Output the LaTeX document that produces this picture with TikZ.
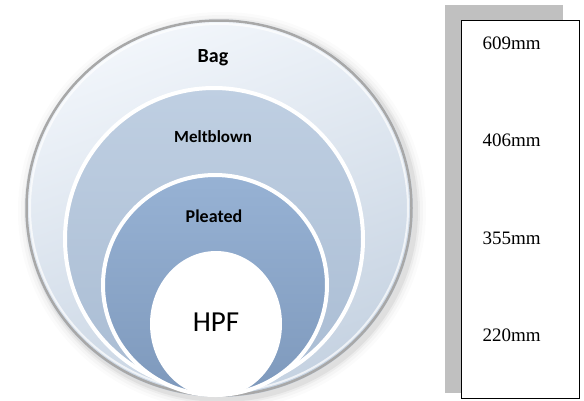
\documentclass[tikz,border=0pt]{standalone}
\usepackage{fontspec}
\setmainfont{Liberation Serif}
\newfontfamily\carlito{Carlito}
\usetikzlibrary{shadings}
\definecolor{bagtop}{HTML}{F2F6FB}
\definecolor{bagbot}{HTML}{C5D2E1}
\definecolor{melttop}{HTML}{BFCFE2}
\definecolor{meltbot}{HTML}{A9BCD3}
\definecolor{pleattop}{HTML}{97B2D4}
\definecolor{pleatbot}{HTML}{7E99BC}
\definecolor{rimgray}{HTML}{A8A8A8}
\definecolor{shadowgray}{HTML}{C0C0C0}
\tikzset{
  ringlabel/.style={font=\carlito\bfseries\fontsize{#1}{#1}\selectfont, text=black},
  ringlabel/.default=17,
  mmlabel/.style={font=\fontsize{19}{22}\selectfont, anchor=west, text=black},
  innerring/.style={draw=white, line width=4pt},
}
\begin{document}
\begin{tikzpicture}[x=1pt,y=-1pt]
\useasboundingbox (0,0) rectangle (584,400);
\fill[white] (0,0) rectangle (584,400);
% soft shadow around outer circle
\foreach \r/\o in {10/0.015,7/0.025,4/0.035,2/0.05}{
  \fill[black,opacity=\o] (222,211) ellipse ({194+\r} and {189+\r});
}
% outer bag circle
\shade[top color=bagtop, bottom color=bagbot, shading angle=20] (219,208) ellipse (194 and 189);
\draw[rimgray, line width=2.5pt] (219,208) ellipse (192.5 and 187.5);
\draw[white, opacity=0.7, line width=2pt] (219,208) ellipse (189 and 184);
\node[ringlabel=20] (bag) at (213,58) {Bag};
% meltblown
\shade[top color=melttop, bottom color=meltbot, innerring] (214,239) ellipse (149 and 151);
\node[ringlabel=17] (melt) at (213,137) {Meltblown};
% pleated
\shade[top color=pleattop, bottom color=pleatbot, innerring] (215,285) ellipse (112 and 110);
\node[ringlabel=18] (pleat) at (214,216) {Pleated};
% HPF
\fill[white] (216,324) ellipse (66 and 73);
\node[font=\carlito\fontsize{29}{32}\selectfont] (hpf) at (216,322) {HPF};
% right panel
\fill[shadowgray] (445,5) rectangle (563,393);
\draw[black, line width=1pt, fill=white] (461,20) rectangle (579,398);
\node[mmlabel] (m609) at (479,43) {609mm};
\node[mmlabel] (m406) at (479,140) {406mm};
\node[mmlabel] (m355) at (479,238) {355mm};
\node[mmlabel] (m220) at (479,335) {220mm};
\end{tikzpicture}
\end{document}
